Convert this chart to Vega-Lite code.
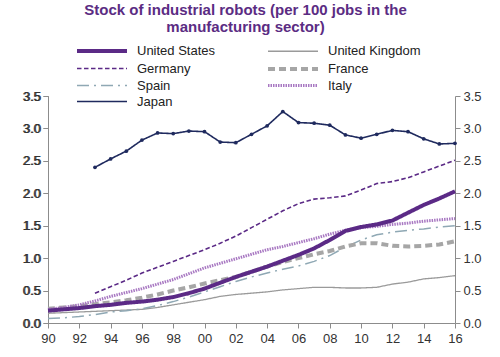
{
  "$schema": "https://vega.github.io/schema/vega-lite/v6.json",
  "width": 407,
  "height": 227,
  "autosize": {"type": "none"},
  "padding": {"left": 48, "top": 96, "right": 45, "bottom": 34},
  "background": "white",
  "title": {
    "text": ["Stock of industrial robots (per 100 jobs in the", "manufacturing sector)"],
    "font": "Liberation Sans",
    "fontSize": 15,
    "fontWeight": "bold",
    "color": "#5B2C83",
    "anchor": "middle",
    "frame": "group",
    "offset": 9,
    "lineHeight": 17,
    "dx": -6
  },
  "config": {
    "view": {"stroke": null},
    "font": "Liberation Sans",
    "axis": {
      "grid": false,
      "domainColor": "#8c8c8c",
      "tickColor": "#8c8c8c",
      "tickSize": 5,
      "labelFont": "Liberation Sans",
      "labelFontSize": 13,
      "labelColor": "#333333",
      "title": null
    }
  },
  "data": {
    "values": [
      {"c": "United Kingdom", "year": 1990, "v": 0.15}, {"c": "United Kingdom", "year": 1991, "v": 0.16}, {"c": "United Kingdom", "year": 1992, "v": 0.17}, {"c": "United Kingdom", "year": 1993, "v": 0.18}, {"c": "United Kingdom", "year": 1994, "v": 0.19}, {"c": "United Kingdom", "year": 1995, "v": 0.2}, {"c": "United Kingdom", "year": 1996, "v": 0.21}, {"c": "United Kingdom", "year": 1997, "v": 0.24}, {"c": "United Kingdom", "year": 1998, "v": 0.28}, {"c": "United Kingdom", "year": 1999, "v": 0.32}, {"c": "United Kingdom", "year": 2000, "v": 0.36}, {"c": "United Kingdom", "year": 2001, "v": 0.41}, {"c": "United Kingdom", "year": 2002, "v": 0.44}, {"c": "United Kingdom", "year": 2003, "v": 0.46}, {"c": "United Kingdom", "year": 2004, "v": 0.48}, {"c": "United Kingdom", "year": 2005, "v": 0.51}, {"c": "United Kingdom", "year": 2006, "v": 0.53}, {"c": "United Kingdom", "year": 2007, "v": 0.55}, {"c": "United Kingdom", "year": 2008, "v": 0.55}, {"c": "United Kingdom", "year": 2009, "v": 0.54}, {"c": "United Kingdom", "year": 2010, "v": 0.54}, {"c": "United Kingdom", "year": 2011, "v": 0.55}, {"c": "United Kingdom", "year": 2012, "v": 0.6}, {"c": "United Kingdom", "year": 2013, "v": 0.63}, {"c": "United Kingdom", "year": 2014, "v": 0.68}, {"c": "United Kingdom", "year": 2015, "v": 0.7}, {"c": "United Kingdom", "year": 2016, "v": 0.73},
      {"c": "Spain", "year": 1990, "v": 0.07}, {"c": "Spain", "year": 1991, "v": 0.08}, {"c": "Spain", "year": 1992, "v": 0.1}, {"c": "Spain", "year": 1993, "v": 0.13}, {"c": "Spain", "year": 1994, "v": 0.17}, {"c": "Spain", "year": 1995, "v": 0.19}, {"c": "Spain", "year": 1996, "v": 0.22}, {"c": "Spain", "year": 1997, "v": 0.27}, {"c": "Spain", "year": 1998, "v": 0.33}, {"c": "Spain", "year": 1999, "v": 0.4}, {"c": "Spain", "year": 2000, "v": 0.48}, {"c": "Spain", "year": 2001, "v": 0.56}, {"c": "Spain", "year": 2002, "v": 0.64}, {"c": "Spain", "year": 2003, "v": 0.71}, {"c": "Spain", "year": 2004, "v": 0.77}, {"c": "Spain", "year": 2005, "v": 0.83}, {"c": "Spain", "year": 2006, "v": 0.88}, {"c": "Spain", "year": 2007, "v": 0.95}, {"c": "Spain", "year": 2008, "v": 1.04}, {"c": "Spain", "year": 2009, "v": 1.17}, {"c": "Spain", "year": 2010, "v": 1.28}, {"c": "Spain", "year": 2011, "v": 1.36}, {"c": "Spain", "year": 2012, "v": 1.4}, {"c": "Spain", "year": 2013, "v": 1.43}, {"c": "Spain", "year": 2014, "v": 1.45}, {"c": "Spain", "year": 2015, "v": 1.48}, {"c": "Spain", "year": 2016, "v": 1.5},
      {"c": "France", "year": 1990, "v": 0.22}, {"c": "France", "year": 1991, "v": 0.24}, {"c": "France", "year": 1992, "v": 0.26}, {"c": "France", "year": 1993, "v": 0.29}, {"c": "France", "year": 1994, "v": 0.32}, {"c": "France", "year": 1995, "v": 0.35}, {"c": "France", "year": 1996, "v": 0.39}, {"c": "France", "year": 1997, "v": 0.44}, {"c": "France", "year": 1998, "v": 0.5}, {"c": "France", "year": 1999, "v": 0.55}, {"c": "France", "year": 2000, "v": 0.61}, {"c": "France", "year": 2001, "v": 0.66}, {"c": "France", "year": 2002, "v": 0.71}, {"c": "France", "year": 2003, "v": 0.79}, {"c": "France", "year": 2004, "v": 0.87}, {"c": "France", "year": 2005, "v": 0.94}, {"c": "France", "year": 2006, "v": 1.0}, {"c": "France", "year": 2007, "v": 1.06}, {"c": "France", "year": 2008, "v": 1.11}, {"c": "France", "year": 2009, "v": 1.18}, {"c": "France", "year": 2010, "v": 1.23}, {"c": "France", "year": 2011, "v": 1.23}, {"c": "France", "year": 2012, "v": 1.19}, {"c": "France", "year": 2013, "v": 1.18}, {"c": "France", "year": 2014, "v": 1.19}, {"c": "France", "year": 2015, "v": 1.21}, {"c": "France", "year": 2016, "v": 1.26},
      {"c": "Italy", "year": 1990, "v": 0.21}, {"c": "Italy", "year": 1991, "v": 0.24}, {"c": "Italy", "year": 1992, "v": 0.28}, {"c": "Italy", "year": 1993, "v": 0.34}, {"c": "Italy", "year": 1994, "v": 0.41}, {"c": "Italy", "year": 1995, "v": 0.47}, {"c": "Italy", "year": 1996, "v": 0.53}, {"c": "Italy", "year": 1997, "v": 0.6}, {"c": "Italy", "year": 1998, "v": 0.67}, {"c": "Italy", "year": 1999, "v": 0.76}, {"c": "Italy", "year": 2000, "v": 0.85}, {"c": "Italy", "year": 2001, "v": 0.92}, {"c": "Italy", "year": 2002, "v": 0.99}, {"c": "Italy", "year": 2003, "v": 1.06}, {"c": "Italy", "year": 2004, "v": 1.13}, {"c": "Italy", "year": 2005, "v": 1.18}, {"c": "Italy", "year": 2006, "v": 1.24}, {"c": "Italy", "year": 2007, "v": 1.3}, {"c": "Italy", "year": 2008, "v": 1.37}, {"c": "Italy", "year": 2009, "v": 1.43}, {"c": "Italy", "year": 2010, "v": 1.47}, {"c": "Italy", "year": 2011, "v": 1.49}, {"c": "Italy", "year": 2012, "v": 1.52}, {"c": "Italy", "year": 2013, "v": 1.54}, {"c": "Italy", "year": 2014, "v": 1.57}, {"c": "Italy", "year": 2015, "v": 1.59}, {"c": "Italy", "year": 2016, "v": 1.61},
      {"c": "United States", "year": 1990, "v": 0.19}, {"c": "United States", "year": 1991, "v": 0.21}, {"c": "United States", "year": 1992, "v": 0.23}, {"c": "United States", "year": 1993, "v": 0.26}, {"c": "United States", "year": 1994, "v": 0.28}, {"c": "United States", "year": 1995, "v": 0.31}, {"c": "United States", "year": 1996, "v": 0.33}, {"c": "United States", "year": 1997, "v": 0.36}, {"c": "United States", "year": 1998, "v": 0.4}, {"c": "United States", "year": 1999, "v": 0.46}, {"c": "United States", "year": 2000, "v": 0.53}, {"c": "United States", "year": 2001, "v": 0.62}, {"c": "United States", "year": 2002, "v": 0.71}, {"c": "United States", "year": 2003, "v": 0.79}, {"c": "United States", "year": 2004, "v": 0.87}, {"c": "United States", "year": 2005, "v": 0.96}, {"c": "United States", "year": 2006, "v": 1.05}, {"c": "United States", "year": 2007, "v": 1.15}, {"c": "United States", "year": 2008, "v": 1.28}, {"c": "United States", "year": 2009, "v": 1.42}, {"c": "United States", "year": 2010, "v": 1.48}, {"c": "United States", "year": 2011, "v": 1.52}, {"c": "United States", "year": 2012, "v": 1.58}, {"c": "United States", "year": 2013, "v": 1.7}, {"c": "United States", "year": 2014, "v": 1.82}, {"c": "United States", "year": 2015, "v": 1.92}, {"c": "United States", "year": 2016, "v": 2.03},
      {"c": "Germany", "year": 1993, "v": 0.46}, {"c": "Germany", "year": 1994, "v": 0.56}, {"c": "Germany", "year": 1995, "v": 0.66}, {"c": "Germany", "year": 1996, "v": 0.77}, {"c": "Germany", "year": 1997, "v": 0.86}, {"c": "Germany", "year": 1998, "v": 0.95}, {"c": "Germany", "year": 1999, "v": 1.04}, {"c": "Germany", "year": 2000, "v": 1.13}, {"c": "Germany", "year": 2001, "v": 1.23}, {"c": "Germany", "year": 2002, "v": 1.34}, {"c": "Germany", "year": 2003, "v": 1.47}, {"c": "Germany", "year": 2004, "v": 1.6}, {"c": "Germany", "year": 2005, "v": 1.73}, {"c": "Germany", "year": 2006, "v": 1.84}, {"c": "Germany", "year": 2007, "v": 1.91}, {"c": "Germany", "year": 2008, "v": 1.93}, {"c": "Germany", "year": 2009, "v": 1.96}, {"c": "Germany", "year": 2010, "v": 2.05}, {"c": "Germany", "year": 2011, "v": 2.15}, {"c": "Germany", "year": 2012, "v": 2.18}, {"c": "Germany", "year": 2013, "v": 2.24}, {"c": "Germany", "year": 2014, "v": 2.33}, {"c": "Germany", "year": 2015, "v": 2.42}, {"c": "Germany", "year": 2016, "v": 2.51},
      {"c": "Japan", "year": 1993, "v": 2.4}, {"c": "Japan", "year": 1994, "v": 2.53}, {"c": "Japan", "year": 1995, "v": 2.65}, {"c": "Japan", "year": 1996, "v": 2.82}, {"c": "Japan", "year": 1997, "v": 2.93}, {"c": "Japan", "year": 1998, "v": 2.92}, {"c": "Japan", "year": 1999, "v": 2.96}, {"c": "Japan", "year": 2000, "v": 2.95}, {"c": "Japan", "year": 2001, "v": 2.79}, {"c": "Japan", "year": 2002, "v": 2.78}, {"c": "Japan", "year": 2003, "v": 2.91}, {"c": "Japan", "year": 2004, "v": 3.04}, {"c": "Japan", "year": 2005, "v": 3.26}, {"c": "Japan", "year": 2006, "v": 3.09}, {"c": "Japan", "year": 2007, "v": 3.08}, {"c": "Japan", "year": 2008, "v": 3.05}, {"c": "Japan", "year": 2009, "v": 2.9}, {"c": "Japan", "year": 2010, "v": 2.85}, {"c": "Japan", "year": 2011, "v": 2.91}, {"c": "Japan", "year": 2012, "v": 2.97}, {"c": "Japan", "year": 2013, "v": 2.95}, {"c": "Japan", "year": 2014, "v": 2.84}, {"c": "Japan", "year": 2015, "v": 2.76}, {"c": "Japan", "year": 2016, "v": 2.77}
    ]
  },
  "encoding": {
    "x": {
      "field": "year",
      "type": "quantitative",
      "scale": {"domain": [1990, 2016], "nice": false, "zero": false},
      "axis": {
        "values": [1990, 1992, 1994, 1996, 1998, 2000, 2002, 2004, 2006, 2008, 2010, 2012, 2014, 2016],
        "labelExpr": "substring(toString(datum.value), 2, 4)",
        "labelPadding": 4,
        "labelFlush": false
      }
    }
  },
  "layer": [
    {
      "mark": {"type": "line", "strokeCap": "butt"},
      "encoding": {
        "y": {
          "field": "v",
          "type": "quantitative",
          "scale": {"domain": [0, 3.5], "nice": false},
          "axis": {"orient": "left", "values": [0, 0.5, 1, 1.5, 2, 2.5, 3, 3.5], "format": ".1f", "labelPadding": 3}
        },
        "color": {
          "field": "c",
          "type": "nominal",
          "scale": {
            "domain": ["United States", "Germany", "Spain", "Japan", "United Kingdom", "France", "Italy"],
            "range": ["#5B2A86", "#5B2A86", "#8fa8b4", "#1f2a5e", "#9a9a9a", "#a6a6a6", "#a878c2"]
          },
          "legend": {
            "title": null,
            "orient": "none",
            "legendX": 47,
            "legendY": -52,
            "columns": 2,
            "columnPadding": 44,
            "rowPadding": 2,
            "symbolType": "M-5,0H5",
            "symbolSize": 100,
            "labelFont": "Liberation Sans",
            "labelFontSize": 13,
            "labelColor": "#222222",
            "labelOffset": 28
          }
        },
        "strokeDash": {
          "field": "c",
          "type": "nominal",
          "scale": {
            "type": "ordinal",
            "domain": ["United States", "Germany", "Spain", "Japan", "United Kingdom", "France", "Italy"],
            "range": [[1, 0], [4.5, 2.5], [12, 5, 2, 5], [1, 0], [1, 0], [7, 4], [1.5, 1]]
          },
          "legend": null
        },
        "strokeWidth": {
          "field": "c",
          "type": "nominal",
          "scale": {
            "type": "ordinal",
            "domain": ["United States", "Germany", "Spain", "Japan", "United Kingdom", "France", "Italy"],
            "range": [4, 1.6, 1.5, 1.6, 1.3, 4, 3]
          },
          "legend": null
        }
      }
    },
    {
      "transform": [{"filter": "datum.c === 'Japan'"}],
      "mark": {"type": "point", "filled": true, "color": "#1f2a5e", "size": 14, "opacity": 1},
      "encoding": {
        "y": {
          "field": "v",
          "type": "quantitative",
          "scale": {"domain": [0, 3.5], "nice": false},
          "axis": {"orient": "right", "values": [0, 0.5, 1, 1.5, 2, 2.5, 3, 3.5], "format": ".1f", "labelPadding": 3}
        }
      }
    },
    {
      "data": {"values": [{"note": "Sources: IFR, Eurostat, OECD, Natixis"}]},
      "mark": {"type": "text", "align": "left", "baseline": "middle", "font": "Liberation Sans", "fontSize": 11.5, "color": "#333333"},
      "encoding": {
        "x": {"datum": 2001.9},
        "y": {"datum": 0.22},
        "text": {"field": "note"}
      }
    }
  ],
  "resolve": {"axis": {"y": "independent"}}
}
